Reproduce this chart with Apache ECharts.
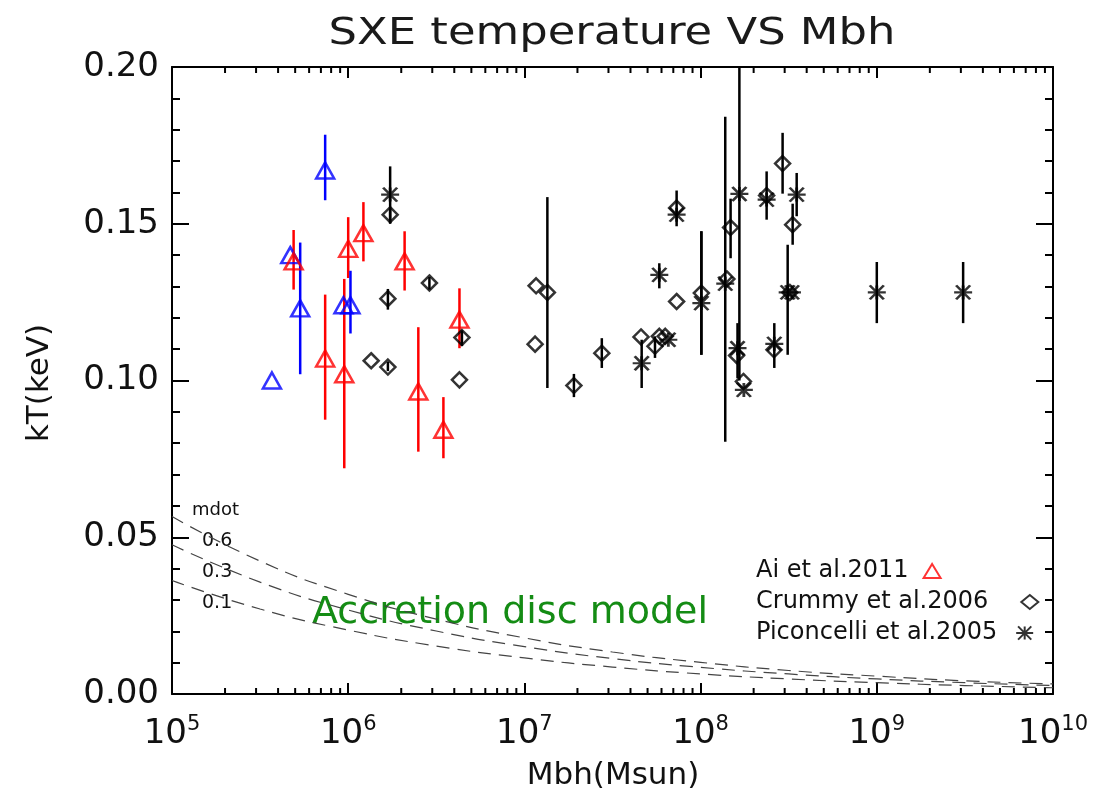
<!DOCTYPE html>
<html>
<head>
<meta charset="utf-8">
<title>SXE temperature VS Mbh</title>
<script src="https://cdn.jsdelivr.net/npm/echarts@6.0.0/dist/echarts.min.js"></script>
<style>
  html, body { margin: 0; padding: 0; background: #fff; }
  #chart { width: 1093px; height: 799px; }
</style>
</head>
<body>
<div id="chart"></div>
<script>
const FONT = 'DejaVu Sans';

// Ai et al. 2011 (red triangles): mass in Msun, kT in keV, error bar ends
const aiMass = [4.9e5, 7.4e5, 9.5e5, 1.0e6, 1.22e6, 2.09e6, 2.5e6, 3.47e6, 4.28e6];
const aiKT   = [0.138, 0.107, 0.102, 0.142, 0.147, 0.138, 0.0965, 0.0843, 0.1194];
const aiLo   = [0.129, 0.0875, 0.072, 0.1327, 0.138, 0.1287, 0.0773, 0.0752, 0.1103];
const aiHi   = [0.148, 0.1274, 0.1324, 0.1521, 0.1569, 0.1476, 0.117, 0.0947, 0.1294];

// blue triangles (not in legend)
const blueMass = [3.69e5, 4.69e5, 5.34e5, 7.4e5, 9.4e5, 1.03e6];
const blueKT   = [0.100, 0.140, 0.123, 0.167, 0.124, 0.124];
const blueLo   = [null, null, 0.102, 0.1575, null, 0.115];
const blueHi   = [null, null, 0.144, 0.1784, null, 0.135];

// Crummy et al. 2006 (diamonds)
const crMass = [1.73e6, 1.68e6, 2.89e6, 1.35e6, 1.68e6, 4.42e6, 4.28e6, 1.165e7, 1.35e7, 1.15e7,
                1.91e7, 2.75e7, 4.59e7, 5.51e7, 5.83e7, 6.3e7, 7.31e7, 7.31e7, 1.01e8, 1.41e8,
                1.48e8, 1.60e8, 1.75e8, 2.37e8, 2.92e8, 3.33e8, 3.21e8, 2.61e8];
const crKT   = [0.1529, 0.1261, 0.1311, 0.1063, 0.1043, 0.1137, 0.1002, 0.1302, 0.1281, 0.1116,
                0.0984, 0.1087, 0.1139, 0.1109, 0.1141, 0.1141, 0.1550, 0.1252, 0.1279, 0.1324,
                0.1488, 0.1080, 0.0997, 0.1590, 0.1692, 0.1497, 0.1281, 0.1098];
const crLo   = [0.150, 0.1226, 0.129, null, 0.103, 0.111, null, null, 0.0976, null,
                0.0947, 0.104, null, 0.1072, null, null, null, null, 0.1082, null,
                0.139, null, null, null, 0.1596, 0.1433, null, null];
const crHi   = [0.155, 0.1292, 0.133, null, 0.106, 0.116, null, null, 0.1585, null,
                0.1021, 0.1135, null, 0.1141, null, null, null, null, 0.1476, null,
                0.158, null, null, null, 0.179, 0.1564, null, null];

// Piconcelli et al. 2005 (asterisks)
const piMass = [1.73e6, 4.63e7, 5.83e7, 6.56e7, 7.31e7, 1.01e8, 1.38e8, 1.66e8, 1.62e8, 1.76e8,
                2.37e8, 3.51e8, 3.12e8, 3.3e8, 2.62e8, 1.0e9, 3.09e9];
const piKT   = [0.1593, 0.1055, 0.1337, 0.1130, 0.1529, 0.1247, 0.1309, 0.1595, 0.1103, 0.0970,
                0.1577, 0.1593, 0.1281, 0.1281, 0.1117, 0.1281, 0.1281];
const piLo   = [0.1502, 0.0976, 0.1294, null, 0.1492, 0.1082, 0.0805, 0.100, 0.1007, null,
                0.1513, 0.1524, 0.1082, null, 0.104, 0.1183, 0.1183];
const piHi   = [0.1683, 0.113, 0.1374, null, 0.1606, 0.1476, 0.1841, 0.220, 0.1183, null,
                0.1667, 0.1662, 0.1433, null, 0.1183, 0.1378, 0.1378];

const modelMass = [1e5, 3.16e5, 1e6, 3.16e6, 1e7, 3.16e7, 1e8, 3.16e8, 1e9, 3.16e9, 1e10];
const model06 = [0.0566, 0.0424, 0.0318, 0.0239, 0.0179, 0.0134, 0.0101, 0.0075, 0.0057, 0.0042, 0.0032];
const model03 = [0.0476, 0.0357, 0.0268, 0.0201, 0.0151, 0.0113, 0.0085, 0.0064, 0.0048, 0.0036, 0.0027];
const model01 = [0.0362, 0.0271, 0.0204, 0.0153, 0.0115, 0.0086, 0.0064, 0.0048, 0.0036, 0.0027, 0.0020];

const xTickExp = [5, 6, 7, 8, 9, 10];
const legendNames = ['Ai et al.2011', 'Crummy et al.2006', 'Piconcelli et al.2005'];

function pts(mass, kt) {
  return mass.map((m, i) => [m, kt[i]]);
}
function bars(mass, lo, hi) {
  const out = [];
  mass.forEach((m, i) => { if (lo[i] != null) out.push([m, lo[i], hi[i]]); });
  return out;
}

function errorSeries(data, color) {
  return {
    type: 'custom',
    data: data,
    clip: true,
    silent: true,
    z: 3,
    encode: { x: 0, y: [1, 2] },
    renderItem: function (params, api) {
      const a = api.coord([api.value(0), api.value(1)]);
      const b = api.coord([api.value(0), api.value(2)]);
      return {
        type: 'line',
        shape: { x1: a[0], y1: a[1], x2: b[0], y2: b[1] },
        style: { stroke: color, lineWidth: 2.5 }
      };
    }
  };
}

function modelSeries(vals) {
  return {
    type: 'line',
    data: pts(modelMass, vals),
    symbol: 'none',
    smooth: true,
    silent: true,
    clip: true,
    z: 2,
    lineStyle: { color: '#444', width: 1.2, type: [13, 8] }
  };
}

// one legend box per entry so the texts line up on the left, symbol after text
function legendBox(name, top, gap) {
  return {
    data: [name],
    orient: 'vertical',
    left: 751,
    top: top,
    align: 'right',
    itemWidth: 17,
    itemHeight: 14,
    selectedMode: false,
    textStyle: { fontFamily: FONT, fontSize: 24, color: '#111', padding: [0, gap, 0, 0] }
  };
}

// x minor ticks (2..9 x 10^k) on bottom and top edges
const minorX = [];
xTickExp.slice(0, -1).forEach(e => {
  for (let m = 2; m <= 9; m++) minorX.push([m * Math.pow(10, e), 0]);
});

const asterisk = 'path://M0,7L18,7M2,0L16,14M2,14L16,0M9,0L9,14';

const hollow = (c) => ({ color: 'rgba(0,0,0,0)', borderColor: c, borderWidth: 2.5 });

const yAxisBase = {
  type: 'value', min: 0, max: 0.2, interval: 0.05,
  splitLine: { show: false },
  axisLine: { show: true, lineStyle: { color: '#000', width: 2 } },
  axisTick: { show: true, inside: true, length: 17, lineStyle: { color: '#000', width: 2 } },
  minorTick: { show: true, splitNumber: 5, length: 8, lineStyle: { color: '#000', width: 2 } }
};
const xAxisBase = {
  type: 'log', logBase: 10, min: 1e5, max: 1e10, splitNumber: 5,
  splitLine: { show: false },
  axisLine: { show: true, onZero: false, lineStyle: { color: '#000', width: 2 } },
  axisTick: { show: true, inside: true, length: 11, lineStyle: { color: '#000', width: 2 } }
};

const chart = echarts.init(document.getElementById('chart'));
chart.setOption({
  animation: false,
  backgroundColor: '#fff',
  grid: { left: 172, right: 40, top: 67, bottom: 105 },
  xAxis: [
    Object.assign({}, xAxisBase, {
      position: 'bottom',
      axisLabel: {
        margin: 20,
        formatter: v => '{b|10}{s|' + Math.round(Math.log10(v)) + '}',
        rich: {
          b: { fontFamily: FONT, fontSize: 34, color: '#111', lineHeight: 40 },
          s: { fontFamily: FONT, fontSize: 21, color: '#111', verticalAlign: 'top', lineHeight: 22 }
        }
      }
    }),
    Object.assign({}, xAxisBase, { position: 'top', axisLabel: { show: false } })
  ],
  yAxis: [
    Object.assign({}, yAxisBase, {
      position: 'left',
      axisLabel: { margin: 13, fontFamily: FONT, fontSize: 34, color: '#111', formatter: v => v.toFixed(2) }
    }),
    Object.assign({}, yAxisBase, { position: 'right', axisLabel: { show: false } })
  ],
  legend: [
    legendBox(legendNames[0], 554, 10),
    legendBox(legendNames[1], 585, 28),
    legendBox(legendNames[2], 616, 14)
  ],
  graphic: [
    { type: 'text', x: 612, y: 34, scaleX: 1.18,
      style: { text: 'SXE temperature VS Mbh', align: 'center', verticalAlign: 'middle', font: '38px "DejaVu Sans"', fill: '#1a1a1a' } },
    { type: 'text', x: 40, y: 383, rotation: Math.PI / 2,
      style: { text: 'kT(keV)', align: 'center', verticalAlign: 'middle', font: '31px "DejaVu Sans"', fill: '#111' } },
    { type: 'text', x: 613, y: 776,
      style: { text: 'Mbh(Msun)', align: 'center', verticalAlign: 'middle', font: '31px "DejaVu Sans"', fill: '#111' } },
    { type: 'text', x: 192, y: 510,
      style: { text: 'mdot', align: 'left', verticalAlign: 'middle', font: '18px "DejaVu Sans"', fill: '#111' } },
    { type: 'text', x: 202, y: 541,
      style: { text: '0.6', align: 'left', verticalAlign: 'middle', font: '19px "DejaVu Sans"', fill: '#111' } },
    { type: 'text', x: 202, y: 572,
      style: { text: '0.3', align: 'left', verticalAlign: 'middle', font: '19px "DejaVu Sans"', fill: '#111' } },
    { type: 'text', x: 202, y: 603,
      style: { text: '0.1', align: 'left', verticalAlign: 'middle', font: '19px "DejaVu Sans"', fill: '#111' } },
    { type: 'text', x: 510, y: 613,
      style: { text: 'Accretion disc model', align: 'center', verticalAlign: 'middle', font: '38px "DejaVu Sans"', fill: '#148c14' } }
  ],
  series: [
    modelSeries(model06),
    modelSeries(model03),
    modelSeries(model01),
    errorSeries(bars(aiMass, aiLo, aiHi), '#ff0000'),
    errorSeries(bars(blueMass, blueLo, blueHi), '#0000ff'),
    errorSeries(bars(crMass, crLo, crHi), '#000'),
    errorSeries(bars(piMass, piLo, piHi), '#000'),
    {
      name: 'blue', type: 'scatter', data: pts(blueMass, blueKT), z: 4,
      symbol: 'triangle', symbolSize: [18, 16], itemStyle: hollow('#0000ff')
    },
    {
      name: legendNames[0], type: 'scatter', data: pts(aiMass, aiKT), z: 4,
      symbol: 'triangle', symbolSize: [18, 16], itemStyle: hollow('#ff0000')
    },
    {
      name: legendNames[1], type: 'scatter', data: pts(crMass, crKT), z: 4,
      symbol: 'diamond', symbolSize: [15, 15], itemStyle: hollow('#000')
    },
    {
      name: legendNames[2], type: 'scatter', data: pts(piMass, piKT), z: 4,
      symbol: asterisk, symbolSize: [18, 14], itemStyle: hollow('#000')
    },
    {
      type: 'custom', data: minorX, silent: true, z: 5, encode: { x: 0, y: 1 },
      renderItem: function (params, api) {
        const b = api.coord([api.value(0), 0]);
        const t = api.coord([api.value(0), 0.2]);
        return {
          type: 'group',
          children: [
            { type: 'line', shape: { x1: b[0], y1: b[1], x2: b[0], y2: b[1] - 6 }, style: { stroke: '#000', lineWidth: 2 } },
            { type: 'line', shape: { x1: t[0], y1: t[1], x2: t[0], y2: t[1] + 6 }, style: { stroke: '#000', lineWidth: 2 } }
          ]
        };
      }
    }
  ]
});
</script>
</body>
</html>
